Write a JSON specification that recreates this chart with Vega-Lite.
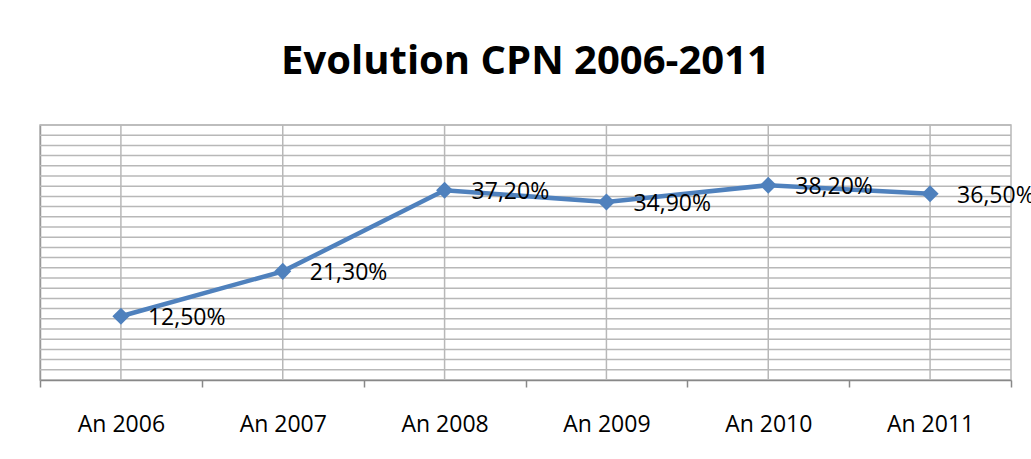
{
  "$schema": "https://vega.github.io/schema/vega-lite/v6.json",
  "width": 971,
  "height": 255,
  "autosize": "none",
  "padding": {"left": 40, "top": 125, "right": 20, "bottom": 79},
  "background": "white",
  "config": {
    "locale": {"number": {"decimal": ",", "thousands": ".", "grouping": [3], "currency": ["", " €"]}},
    "view": {"stroke": "#B8B8B8", "strokeWidth": 1.5},
    "font": "Open Sans"
  },
  "title": {
    "text": "Evolution CPN 2006-2011",
    "font": "Open Sans",
    "fontSize": 40,
    "fontWeight": "bold",
    "color": "black",
    "anchor": "middle",
    "baseline": "alphabetic",
    "offset": 10
  },
  "datasets": {
    "cpn": [
      {"year": "An 2006", "v": 0.125},
      {"year": "An 2007", "v": 0.213},
      {"year": "An 2008", "v": 0.372},
      {"year": "An 2009", "v": 0.349},
      {"year": "An 2010", "v": 0.382},
      {"year": "An 2011", "v": 0.365}
    ],
    "grid": [
      {"g": 0.02}, {"g": 0.04}, {"g": 0.06}, {"g": 0.08}, {"g": 0.1},
      {"g": 0.12}, {"g": 0.14}, {"g": 0.16}, {"g": 0.18}, {"g": 0.2},
      {"g": 0.22}, {"g": 0.24}, {"g": 0.26}, {"g": 0.28}, {"g": 0.3},
      {"g": 0.32}, {"g": 0.34}, {"g": 0.36}, {"g": 0.38}, {"g": 0.4},
      {"g": 0.42}, {"g": 0.44}, {"g": 0.46}, {"g": 0.48}, {"g": 0.5}
    ]
  },
  "layer": [
    {
      "data": {"name": "grid"},
      "mark": {"type": "rule", "color": "#B8B8B8", "strokeWidth": 1.5},
      "encoding": {
        "y": {
          "field": "g",
          "type": "quantitative",
          "scale": {"domain": [0, 0.5], "nice": false},
          "axis": {
            "title": null,
            "labels": false,
            "ticks": false,
            "grid": false,
            "domainColor": "#999999",
            "domainWidth": 1.5
          }
        }
      }
    },
    {
      "data": {"name": "cpn"},
      "encoding": {
        "x": {
          "field": "year",
          "type": "nominal",
          "sort": null,
          "scale": {"paddingInner": 0, "paddingOuter": 0},
          "axis": {
            "title": null,
            "labelAngle": 0,
            "tickBand": "extent",
            "grid": false,
            "domainColor": "#888888",
            "domainWidth": 1.5,
            "tickColor": "#888888",
            "tickWidth": 1.5,
            "tickSize": 7,
            "labelFont": "Open Sans",
            "labelFontSize": 23,
            "labelColor": "black",
            "labelBaseline": "alphabetic",
            "labelPadding": 44
          }
        }
      },
      "layer": [
        {
          "mark": {"type": "rule", "color": "#B8B8B8", "strokeWidth": 1.5},
          "encoding": {}
        },
        {
          "mark": {"type": "line", "color": "#4F81BD", "strokeWidth": 4.5},
          "encoding": {
            "y": {"field": "v", "type": "quantitative"}
          }
        },
        {
          "mark": {"type": "point", "shape": "diamond", "filled": true, "size": 290, "color": "#4F81BD", "opacity": 1},
          "encoding": {
            "y": {"field": "v", "type": "quantitative"}
          }
        },
        {
          "mark": {"type": "text", "align": "left", "baseline": "middle", "dx": 27, "dy": 2, "fontSize": 23, "font": "Open Sans", "color": "black"},
          "encoding": {
            "y": {"field": "v", "type": "quantitative"},
            "text": {"field": "v", "type": "quantitative", "format": ".2%"}
          }
        }
      ]
    }
  ]
}
